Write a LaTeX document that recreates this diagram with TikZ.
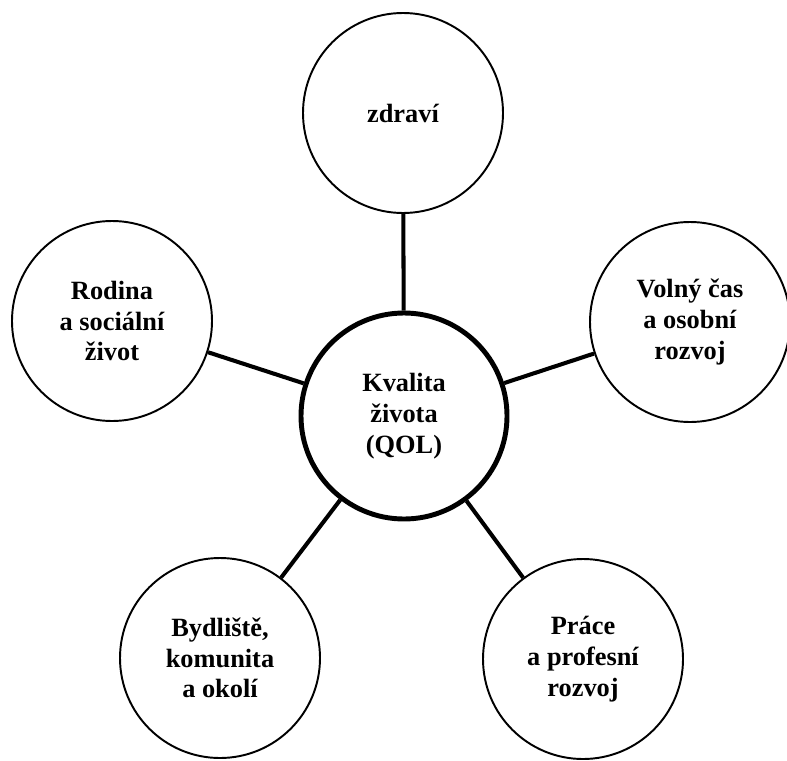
\documentclass[tikz,border=0pt]{standalone}
\usepackage{fontspec}
\setmainfont{Liberation Serif}
\begin{document}
\begin{tikzpicture}[every node/.style={align=center, font=\fontsize{15}{17.5}\selectfont\bfseries}]  % bold serif labels

        % Styles for nodes
        \tikzstyle{area} = [circle, draw, line width=1.1pt, minimum size=4cm, inner sep=0pt]
        \tikzstyle{core} = [circle, draw, line width=2.8pt, minimum size=4.12cm, inner sep=0pt]
        \tikzstyle{link} = [line width=2.3pt]

        \useasboundingbox (0,0) rectangle (15.74,15.2);

        % Nodes
        \node[core] (qol) at (8.08,6.88) {Kvalita\\ života\\ (QOL)};
        \node[area] (zdravi) at (8.06,12.94) {zdraví};
        \node[area] (rodina) at (2.24,8.78) {Rodina\\ a sociální\\ život};
        \node[area] (cas) at (13.8,8.76) {Volný čas\\ a osobní\\ rozvoj};
        \node[area] (bydliste) at (4.4,2.04) {Bydliště,\\ komunita\\ a okolí};
        \node[area] (prace) at (11.66,2.02) {Práce\\ a profesní\\ rozvoj};

        % Lines
        \draw[link] (qol) -- (zdravi);
        \draw[link] (qol) -- (rodina);
        \draw[link] (qol) -- (cas);
        \draw[link] (qol) -- (bydliste);
        \draw[link] (qol) -- (prace);

    \end{tikzpicture}
\end{document}
